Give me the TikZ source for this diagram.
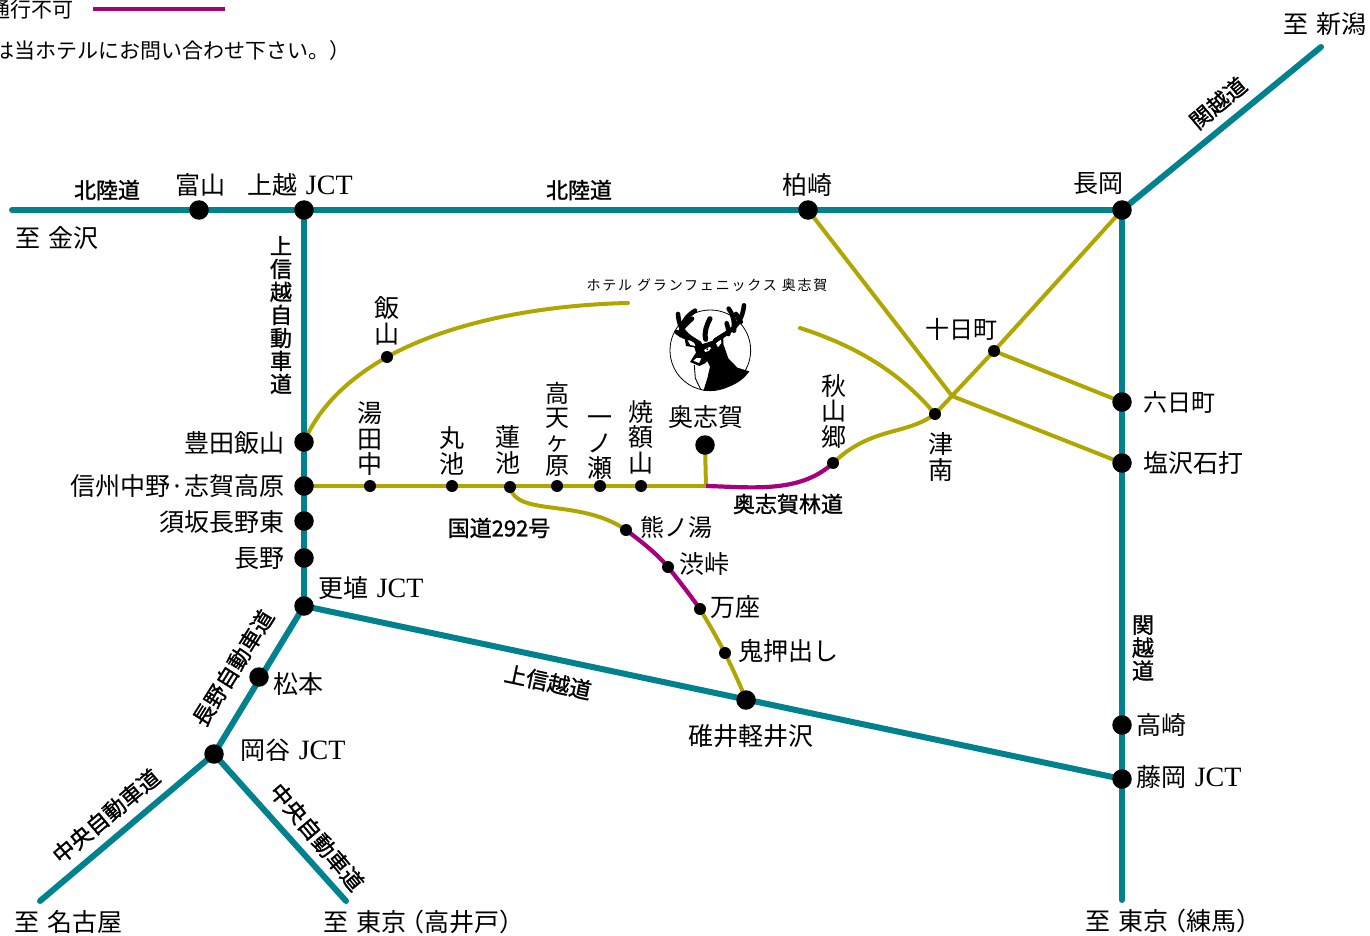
\documentclass[tikz,border=0pt]{standalone}
\usepackage{fontspec}
\setmainfont{Noto Sans CJK JP}
\newfontfamily\lat{Liberation Serif}
\newfontfamily\tagfont[FakeBold=1.2]{Noto Sans CJK JP}
\newcommand{\jct}{\kern3pt{\lat\fontsize{28}{28}\selectfont JCT}}
\newcommand{\itaru}{至\kern8pt}
\definecolor{teal1}{HTML}{00828E}
\definecolor{olive1}{HTML}{B0A600}
\definecolor{purp1}{HTML}{A5007F}
\tikzset{
  road/.style={draw=teal1,line width=6pt,line cap=round},
  local/.style={draw=olive1,line width=4pt,line cap=round},
  closed/.style={draw=purp1,line width=4.2pt,line cap=round},
  bigst/.style={circle,fill=black,minimum size=19.5pt,inner sep=0pt},
  smst/.style={circle,fill=black,minimum size=12pt,inner sep=0pt},
  lab/.style={inner sep=0pt,align=center,font=\fontsize{25}{25.5}\selectfont},
  lab24/.style={inner sep=0pt,align=center,font=\fontsize{24}{24}\selectfont},
  tag/.style={inner sep=0pt,align=center,font=\tagfont\fontsize{22}{23}\selectfont},
  note/.style={inner sep=0pt,font=\fontsize{21}{24}\selectfont},
}
\pgfdeclarelayer{bg}\pgfsetlayers{bg,main}
\begin{document}
\begin{tikzpicture}[x=1pt,y=-1pt]
\useasboundingbox (0,0) rectangle (1370,936);
\clip (0,0) rectangle (1370,936);
% free ends
\coordinate (kanazawa) at (12,210);
\coordinate (niigata) at (1321,47);
\coordinate (nerima) at (1122,900);
\coordinate (nagoya) at (40,901);
\coordinate (takaido) at (346,901);
\coordinate (cross) at (952,396);
\coordinate (fork) at (706,486);
\coordinate (hotelL) at (628,303);
\coordinate (hotelR) at (800,328);
\coordinate (legA) at (93,9);
\coordinate (legB) at (225,9);
% stations
\node[bigst] (toyama) at (199,210) {};
\node[bigst] (joetsu) at (304,210) {};
\node[bigst] (kashiwazaki) at (808,210) {};
\node[bigst] (nagaoka) at (1122,210) {};
\node[bigst] (toyoda) at (304,442) {};
\node[bigst] (shinshu) at (304,486) {};
\node[bigst] (suzaka) at (304,521) {};
\node[bigst] (nagano) at (304,558) {};
\node[bigst] (koshoku) at (304,606) {};
\node[bigst] (matsumoto) at (259,677) {};
\node[bigst] (okaya) at (214,754) {};
\node[bigst] (usui) at (746,700) {};
\node[bigst] (okushiga) at (705,445) {};
\node[bigst] (muika) at (1122,402) {};
\node[bigst] (shiozawa) at (1122,463) {};
\node[bigst] (takasaki) at (1122,725) {};
\node[bigst] (fujioka) at (1122,779) {};
\node[smst] (iiyama) at (387,357) {};
\node[smst] (yudanaka) at (370,486) {};
\node[smst] (maruike) at (452,486) {};
\node[smst] (hasuike) at (510,487) {};
\node[smst] (takama) at (557,486) {};
\node[smst] (ichinose) at (600,486) {};
\node[smst] (yakebi) at (641,486) {};
\node[smst] (akiyama) at (833,463) {};
\node[smst] (tsunan) at (935,414) {};
\node[smst] (tokamachi) at (994,351) {};
\node[smst] (kumanoyu) at (626,530) {};
\node[smst] (shibu) at (668,567) {};
\node[smst] (manza) at (700,609) {};
\node[smst] (oni) at (725,653) {};
% connectors behind the stations
\begin{pgfonlayer}{bg}
\draw[road] (kanazawa) -- (nagaoka.center);
\draw[road] (nagaoka.center) -- (niigata);
\draw[road] (nagaoka.center) -- (nerima);
\draw[road] (joetsu.center) -- (koshoku.center);
\draw[road] (koshoku.center) -- (okaya.center);
\draw[road] (okaya.center) -- (nagoya);
\draw[road] (okaya.center) -- (takaido);
\draw[road] (koshoku.center) -- (fujioka.center);
\draw[local] (kashiwazaki.center) -- (cross) -- (shiozawa.center);
\draw[local] (nagaoka.center) -- (tokamachi.center) -- (tsunan.center);
\draw[local] (tokamachi.center) -- (muika.center);
\draw[local] (hotelR) .. controls (862,348) and (903,376) .. (tsunan.center);
\draw[local] (tsunan.center) .. controls (905,436) and (872,426) .. (akiyama.center);
\draw[local] (toyoda.center) .. controls (320,405) and (350,378) .. (iiyama.center)
   .. controls (450,322) and (540,305) .. (hotelL);
\draw[local] (shinshu.center) -- (fork);
\draw[local] (okushiga.center) -- (fork);
\draw[closed,line cap=butt] (fork) .. controls (750,487) and (800,494) .. (akiyama.center);
\draw[local] (hasuike.center) .. controls (516,517) and (580,498) .. (kumanoyu.center);
\draw[closed] (kumanoyu.center) .. controls (642,542) and (656,553) .. (shibu.center)
   .. controls (680,582) and (690,595) .. (manza.center);
\draw[local] (manza.center) .. controls (709,624) and (716,636) .. (oni.center)
   .. controls (733,670) and (740,684) .. (usui.center);
\end{pgfonlayer}
\draw[closed,line cap=butt] (legA) -- (legB);
% legend
\node[note,anchor=east] (legend1) at (74,10) {通行不可};
\node[note,anchor=east] (legend2) at (351,51) {は当ホテルにお問い合わせ下さい。）};
% labels
\node[lab,anchor=east] at (1367,24) {\itaru 新潟};
\node[tag,rotate=40] at (1218,103) {関越道};
\node[tag] at (107,190) {北陸道};
\node[lab] at (200,185) {富山};
\node[lab] at (300,185) {上越 \jct};
\node[tag] at (579,190) {北陸道};
\node[lab] at (807,185) {柏崎};
\node[lab] at (1098,184) {長岡};
\node[lab] at (57,238) {\itaru 金沢};
\node[tag] at (281,315) {上\\信\\越\\自\\動\\車\\道};
\node[lab] at (387,321) {飯\\山};
\node[lab] at (370,439) {湯\\田\\中};
\node[lab] at (452,451) {丸\\池};
\node[lab] at (508,450) {蓮\\池};
\node[lab24] at (557,429) {高\\天\\ヶ\\原};
\node[lab] at (600,448) {一\\ノ\\瀬};
\node[lab] at (641,437) {焼\\額\\山};
\node[lab] at (706,417) {奥志賀};
\node[lab] at (834,411) {秋\\山\\郷};
\node[lab] at (941,457) {津\\南};
\node[lab24] at (961,329) {十日町};
\node[lab24,anchor=west] at (1143,402) {六日町};
\node[lab,anchor=west] at (1143,463) {塩沢石打};
\node[tag] at (1143,648) {関\\越\\道};
\node[lab,anchor=west] at (1136,725) {高崎};
\node[lab,anchor=west] at (1136,777) {藤岡 \jct};
\node[lab,anchor=west] at (1085,921) {\itaru 東京\kern-7pt（練馬）};
\node[tag,rotate=-12] at (548,682) {上信越道};
\node[lab] at (751,736) {碓井軽井沢};
\node[lab,anchor=west] at (738,651) {鬼押出し};
\node[lab,anchor=west] at (710,607) {万座};
\node[lab,anchor=west] at (679,564) {渋峠};
\node[lab24,anchor=west] at (640,527) {熊ノ湯};
\node[tag] at (788,504) {奥志賀林道};
\node[tag] at (499,528) {国道292号};
\node[lab,anchor=east] at (285,443) {豊田飯山};
\node[lab,anchor=east] at (285,486) {信州中野·志賀高原};
\node[lab,anchor=east] at (285,522) {須坂長野東};
\node[lab,anchor=east] at (285,559) {長野};
\node[lab,anchor=west] at (318,588) {更埴 \jct};
\node[lab,anchor=west] at (273,684) {松本};
\node[lab,anchor=west] at (240,750) {岡谷 \jct};
\node[tag,rotate=58] at (233,668) {長野自動車道};
\node[tag,rotate=40] at (106,816) {中央自動車道};
\node[tag,rotate=-50] at (317,837) {中央自動車道};
\node[lab] at (68,922) {\itaru 名古屋};
\node[lab,anchor=west] at (323,922) {\itaru 東京\kern-7pt（高井戸）};
\node[inner sep=0pt,font=\addfontfeature{LetterSpace=13}\fontsize{14}{15}\selectfont] at (707,285) {ホテル グランフェニックス 奥志賀};
% deer emblem
\begin{scope}[shift={(660,300)},x=.3333pt,y=-.3333pt]
\draw[line width=.8pt] (151,151) circle (121);
% body
\fill (185,118) -- (205,175) -- (232,203) -- (268,214) .. controls (240,255) and (190,272) .. (130,273)
  -- (142,235) -- (150,200) -- (140,180) -- cycle;
% head
\fill (100,116) -- (128,132) -- (165,120) -- (190,106) -- (190,130) -- (175,150) -- (150,175)
  -- (135,190) -- (118,198) -- (90,186) -- (108,158) -- (103,142) -- (78,138) -- (74,116) -- cycle;
% ears and face details
\fill[white] (83,121) -- (100,122) -- (106,138) -- (91,135) -- cycle;
\fill[white] (168,130) -- (183,115) -- (184,129) -- (174,142) -- cycle;
\fill[white] (132,150) -- (148,141) -- (154,144) -- (146,153) -- (136,156) -- cycle;
\fill[white] (100,182) -- (110,174) -- (124,175) -- (117,189) -- cycle;
\fill (142,148) circle (3);
% chest line
\draw[line width=.9pt] (103,195) -- (106,235) -- (122,268);
% antlers
\begin{scope}[line cap=round,line width=4.6pt]
\draw (118,130) .. controls (90,112) and (58,100) .. (54,42);
\draw (72,106) .. controls (62,90) and (62,60) .. (105,32);
\draw (62,92) .. controls (70,80) and (85,65) .. (96,56);
\draw (80,112) .. controls (68,108) and (58,104) .. (50,96);
\draw (165,122) .. controls (195,100) and (245,85) .. (252,16);
\draw (222,92) .. controls (222,60) and (222,50) .. (206,26);
\draw (205,102) .. controls (205,90) and (205,85) .. (200,70);
\draw (242,66) .. controls (240,60) and (232,48) .. (228,42);
\draw[line width=5pt] (137,118) .. controls (132,95) and (140,75) .. (150,56);
\end{scope}
\end{scope}
\end{tikzpicture}
\end{document}
